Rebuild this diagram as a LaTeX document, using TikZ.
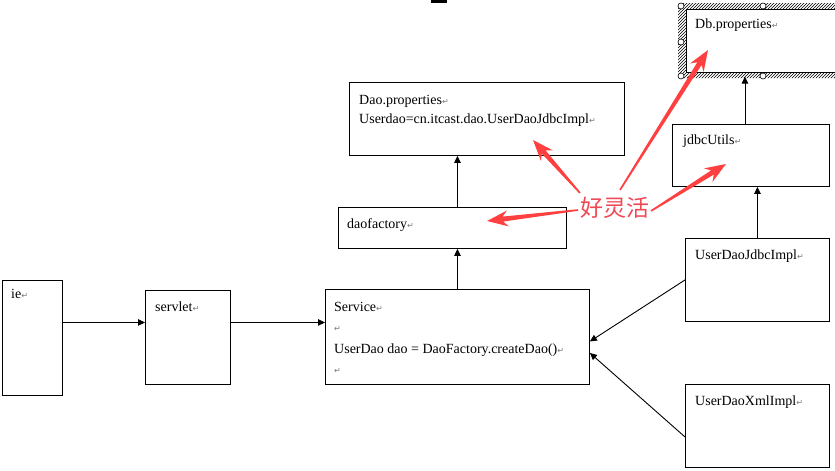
\documentclass[tikz,border=0pt]{standalone}
\usepackage{fontspec}
\setmainfont{Liberation Serif}
\newfontfamily\cjkfont{Noto Sans CJK SC}
\newfontfamily\dejavu{DejaVu Sans}
\usetikzlibrary{arrows.meta,calc,patterns}
\definecolor{redc}{RGB}{255,64,64}
\definecolor{redtxt}{RGB}{240,72,84}
\definecolor{markgray}{RGB}{120,120,120}
\newcommand{\retm}{{\dejavu\fontsize{8}{8}\selectfont\textcolor{markgray}{↵}}}
\newcommand{\redarr}[3]{%
  \coordinate (#3s) at ($(#2)!16pt!(#1)$);
  \coordinate (#3h) at ($(#2)!21pt!(#1)$);
  \fill[redc] ($(#1)!0.8pt!90:(#2)$) -- ($(#3s)!2.5pt!-90:(#1)$) -- ($(#3h)!8pt!-90:(#1)$)
    -- (#2) -- ($(#3h)!8pt!90:(#1)$) -- ($(#3s)!2.5pt!90:(#1)$) -- ($(#1)!0.8pt!-90:(#2)$) -- cycle;}
\tikzset{
  box/.style={draw, line width=0.9pt, inner sep=0pt, anchor=north west},
  lbl/.style={anchor=base west, inner sep=0pt, font=\fontsize{14}{16}\selectfont},
  arr/.style={line width=0.9pt, -{Triangle[length=7pt,width=6.5pt]}},
  handle/.style={circle, draw, fill=white, line width=0.6pt, minimum size=6pt, inner sep=0pt}
}
\begin{document}
\begin{tikzpicture}[x=1pt,y=-1pt]
\useasboundingbox (0,0) rectangle (835,471);
\clip (0,0) rectangle (835,471);
\fill[white] (0,0) rectangle (835,471);
% small fragment at top
\fill[black] (431,0) rectangle (447,2.5);

% boxes
\node[box, minimum width=60, minimum height=115] (ie) at (2,280) {};
\node[box, minimum width=85, minimum height=94] (servlet) at (145,290) {};
\node[box, minimum width=264, minimum height=95] (service) at (325,289) {};
\node[box, minimum width=228, minimum height=41] (daofactory) at (338,207) {};
\node[box, minimum width=275, minimum height=73] (daoprop) at (349,82) {};
\node[box, minimum width=157, minimum height=62] (jdbc) at (672,124) {};
\node[box, minimum width=144, minimum height=83] (udj) at (685,238) {};
\node[box, minimum width=144, minimum height=83] (udx) at (685,384) {};

% Db.properties (selected frame)
\fill[pattern=north east lines, even odd rule] (678,3) rectangle (845,78) (686,9) rectangle (845,72);
\node[box, line width=0.6pt, minimum width=160, minimum height=63] (db) at (686,9) {};
\foreach \p/\q in {681/6, 763/6, 681/42, 681/76, 763/76}
  \node[handle] at (\p,\q) {};

% texts
\node[lbl] (tie) at (11,298) {ie\retm};
\node[lbl] (tservlet) at (155,311) {servlet\retm};
\node[lbl] (tservice1) at (334,311) {Service\retm};
\node[lbl] (tservice2) at (334,331) {\retm};
\node[lbl] (tservice3) at (334,353) {UserDao dao = DaoFactory.createDao()\retm};
\node[lbl] (tservice4) at (334,373) {\retm};
\node[lbl] (tdaof) at (347,228) {daofactory\retm};
\node[lbl] (tdaop1) at (359,104) {Dao.properties\retm};
\node[lbl] (tdaop2) at (359,123) {Userdao=cn.itcast.dao.UserDaoJdbcImpl\retm};
\node[lbl] (tjdbc) at (683,144) {jdbcUtils\retm};
\node[lbl] (tudj) at (695,259) {UserDaoJdbcImpl\retm};
\node[lbl] (tudx) at (695,405) {UserDaoXmlImpl\retm};
\node[lbl] (tdb) at (695,28) {Db.properties\retm};

% connectors
\draw[arr] ([yshift=15.5]ie.east) -- ([yshift=15.5]ie.east -| servlet.west);
\draw[arr] ([yshift=15]servlet.east) -- ([yshift=15]servlet.east -| service.west);
\draw[arr] (service.north) -- (service.north |- daofactory.south);
\draw[arr] (daofactory.north -| service.north) -- (service.north |- daoprop.south);
\draw[arr] (udj.north) -- (udj.north |- jdbc.south);
\draw[arr] ([xshift=-6]jdbc.north) -- ([xshift=-6,yshift=-4]jdbc.north |- db.south);
\draw[arr] (udj.west) -- ([yshift=-4.5]service.east);
\draw[arr] ([yshift=-11]udx.west) -- ([yshift=-16]service.east);

% red annotation
\node[inner sep=0pt, text=redtxt, font=\cjkfont\fontsize{23}{23}\selectfont] (flex) at (615,208) {好灵活};
\coordinate (t1) at (580,193); \coordinate (h1) at (533,140);
\coordinate (t2) at (578,210); \coordinate (h2) at (487,221);
\coordinate (t3) at (620,190); \coordinate (h3) at (708,50);
\coordinate (t4) at (651,211); \coordinate (h4) at (726,164);
\redarr{t1}{h1}{a}
\redarr{t2}{h2}{b}
\redarr{t3}{h3}{c}
\redarr{t4}{h4}{d}
\end{tikzpicture}
\end{document}
